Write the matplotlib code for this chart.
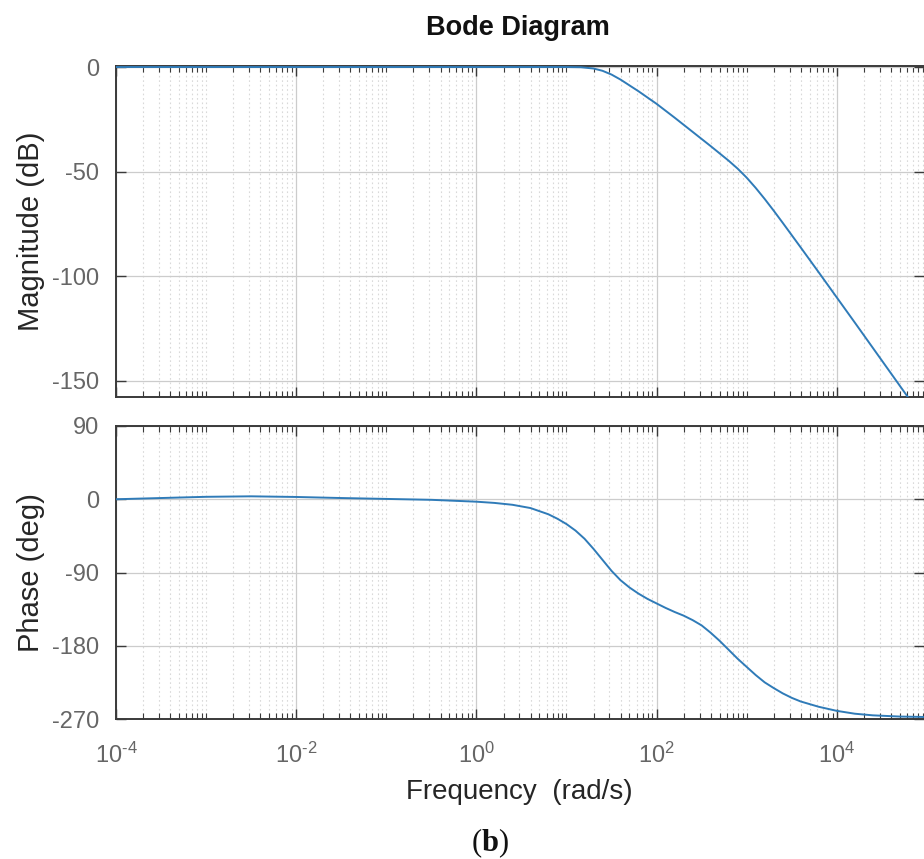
import numpy as np
import matplotlib
matplotlib.use("Agg")
import matplotlib.pyplot as plt
from matplotlib.ticker import FixedLocator, LogLocator, NullFormatter

plt.rcParams['font.family'] = ['Liberation Sans', 'DejaVu Sans']
plt.rcParams['axes.unicode_minus'] = False
plt.rcParams['mathtext.fontset'] = 'custom'
plt.rcParams['mathtext.rm'] = 'Liberation Sans'
plt.rcParams['mathtext.it'] = 'Liberation Sans:italic'
plt.rcParams['mathtext.bf'] = 'Liberation Serif:bold'

# ---- data ----
mag_logw = [-4.0, -3.0, -2.0, -1.0, 0.0, 0.5, 1.0, 1.16, 1.30, 1.40, 1.50, 1.60, 1.70,
            1.80, 1.90, 2.00, 2.10, 2.20, 2.40, 2.60, 2.80, 2.90, 3.00, 3.10, 3.20,
            3.30, 3.40, 3.60, 3.80, 4.00, 4.20, 4.40, 4.60, 4.80, 4.97]
mag_db = [0.0, 0.0, 0.0, 0.0, 0.0, 0.0, 0.0, -0.1, -0.7, -1.8, -3.6, -6.0, -8.8,
          -11.6, -14.6, -17.6, -20.9, -24.2, -31.0, -37.8, -44.8, -48.6, -52.9, -57.8, -63.1,
          -68.7, -74.5, -86.3, -98.2, -110.2, -122.2, -134.3, -146.4, -158.5, -168.8]

ph_logw = [-4.0, -3.5, -3.0, -2.5, -2.0, -1.5, -1.0, -0.5, 0.0, 0.2, 0.4, 0.6, 0.8,
           0.9, 1.0, 1.1, 1.2, 1.3, 1.4, 1.5, 1.6, 1.7, 1.8, 1.9, 2.0, 2.1, 2.2,
           2.3, 2.4, 2.5, 2.6, 2.7, 2.8, 2.9, 3.0, 3.1, 3.2, 3.3, 3.4, 3.5, 3.6,
           3.8, 4.0, 4.2, 4.4, 4.7, 4.97]
ph_deg = [0.0, 1.5, 3.0, 3.6, 2.8, 1.5, 0.4, -0.7, -3.0, -4.5, -6.8, -10.8, -18.5,
          -24.0, -30.5, -38.5, -48.5, -61.0, -74.5, -88.0, -99.5, -108.5, -116.0, -122.5, -128.0, -133.5, -138.5,
          -143.0, -148.5, -155.0, -164.0, -174.0, -185.0, -196.0, -206.0, -216.0, -225.0, -232.0, -238.5, -244.0, -248.5,
          -255.0, -260.0, -263.5, -265.5, -267.0, -267.5]

mag_yticks = [0, -50, -100, -150]
ph_yticks = [90, 0, -90, -180, -270]
x_major = [1e-4, 1e-2, 1e0, 1e2, 1e4]
x_labels = [r'$10^{\text{-4}}$', r'$10^{\text{-2}}$', r'$10^{0}$', r'$10^{2}$', r'$10^{4}$']

W, H = 924, 859
fig = plt.figure(figsize=(W / 100, H / 100), dpi=100)

left = 116 / W
right = 1.0
ax1 = fig.add_axes([left, 1 - 397 / H, right - left, (397 - 66) / H])
ax2 = fig.add_axes([left, 1 - 719 / H, right - left, (719 - 426) / H])

line_color = '#2f7bb8'
tick_color = '#666666'
spine_color = '#3a3a3a'

w_mag = 10.0 ** np.array(mag_logw)
w_ph = 10.0 ** np.array(ph_logw)
ax1.plot(w_mag, mag_db, color=line_color, lw=1.4, zorder=3)
ax2.plot(w_ph, ph_deg, color=line_color, lw=1.4, zorder=3)

xmax = 10 ** 4.968
for ax in (ax1, ax2):
    ax.set_xscale('log')
    ax.set_xlim(1e-4, xmax)
    ax.xaxis.set_major_locator(FixedLocator(x_major))
    ax.xaxis.set_minor_locator(LogLocator(base=10, subs=np.arange(1, 10), numticks=200))
    ax.xaxis.set_minor_formatter(NullFormatter())
    ax.grid(True, which='major', color='#cccccc', lw=0.9, ls='-')
    ax.grid(True, which='minor', axis='x', color='#d9d9d9', lw=0.8, ls=(0, (1.5, 2.5)))
    ax.set_axisbelow(True)
    ax.tick_params(which='both', direction='in', top=True, right=True, colors=spine_color,
                   labelcolor=tick_color, labelsize=17)
    ax.tick_params(which='major', length=7, width=1.0)
    ax.tick_params(which='minor', length=4, width=0.8)
    ax.tick_params(axis='y', which='major', pad=12)
    for s in ('left', 'top', 'bottom'):
        ax.spines[s].set_color(spine_color)
        ax.spines[s].set_linewidth(1.4)
    ax.spines['right'].set_visible(False)

ax1.set_ylim(-157.8, 0.5)
ax1.set_yticks(mag_yticks)
ax1.set_yticklabels([str(v) for v in mag_yticks])
ax1.xaxis.set_major_formatter(NullFormatter())

ax2.set_ylim(-270, 90)
ax2.set_yticks(ph_yticks)
ax2.set_yticklabels([str(v) for v in ph_yticks])
ax2.set_xticklabels(x_labels)
ax2.tick_params(axis='x', which='major', pad=17)

ax1.set_ylabel('Magnitude (dB)', fontsize=21, color='#262626')
ax2.set_ylabel('Phase (deg)', fontsize=21, color='#262626')
ax1.yaxis.set_label_coords(-71 / (W - 116), 0.5)
ax2.yaxis.set_label_coords(-71 / (W - 116), 0.5)

fig.text(518 / W, 1 - 28 / H, 'Bode Diagram', ha='center', va='center',
         fontsize=19.5, fontweight='bold', color='#111111')
fig.text(519 / W, 1 - 792 / H, 'Frequency  (rad/s)', ha='center', va='center',
         fontsize=20, color='#262626')
fig.text(490 / W, 1 - 843 / H, r'($\mathbf{b}$)', ha='center', va='center',
         fontsize=22, color='#111111', family='Liberation Serif')

fig.savefig('out.png', dpi=100)
